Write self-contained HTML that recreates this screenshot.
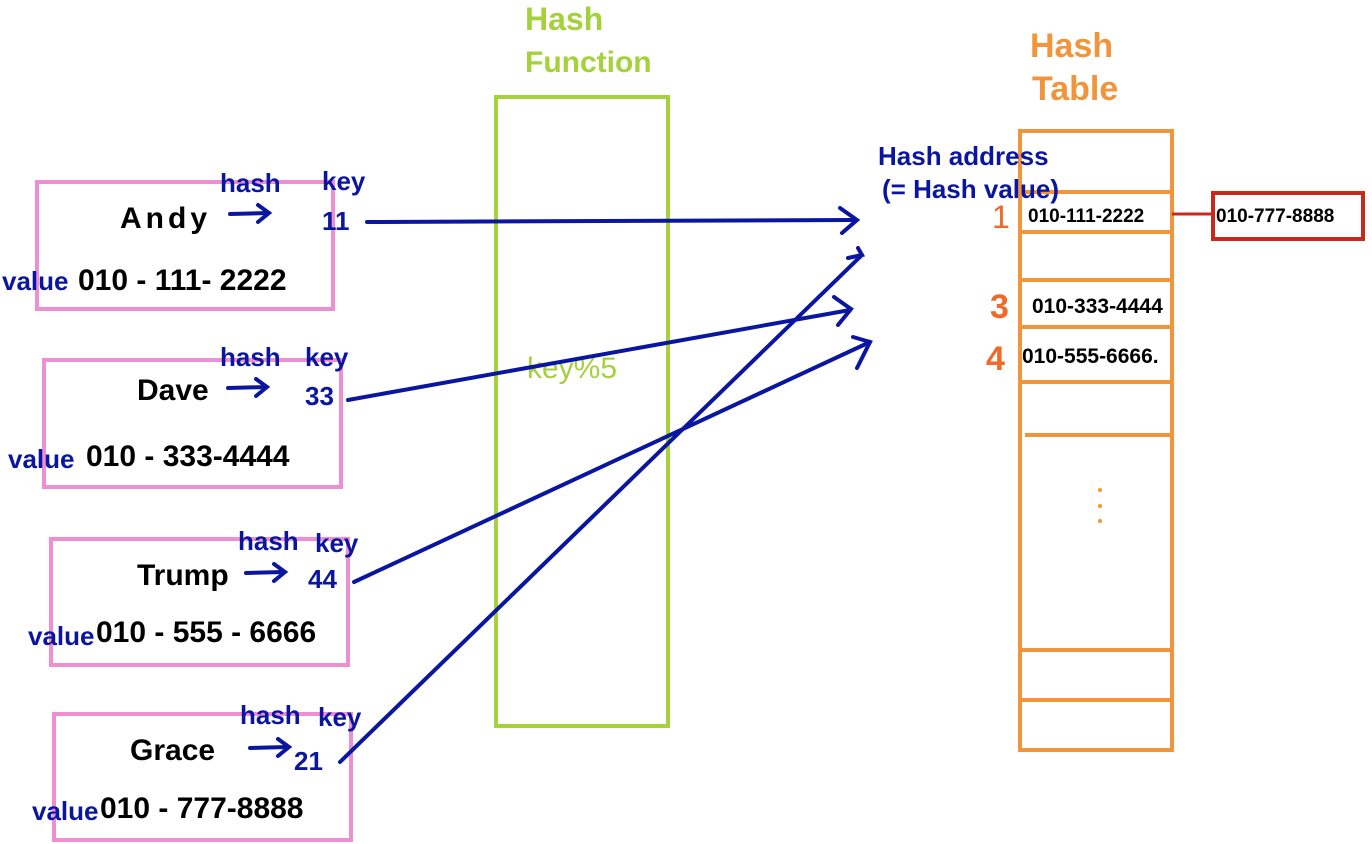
<!DOCTYPE html>
<html><head><meta charset="utf-8"><style>
html,body{margin:0;padding:0;background:#fff;width:1372px;height:844px;overflow:hidden}
svg{display:block}
text{font-family:"Liberation Sans",sans-serif}
.b{fill:#000;font-size:30px;font-weight:bold}
.u{fill:#0a16a0;font-size:26px;font-weight:bold}
</style></head><body>
<svg width="1372" height="844" viewBox="0 0 1372 844">
<g fill="none" stroke="#ef8fd3" stroke-width="4">
<rect x="37" y="182" width="296" height="127"/>
<rect x="44" y="360" width="297" height="127"/>
<rect x="51" y="539" width="297" height="126"/>
<rect x="54" y="714" width="297" height="126"/>
</g>
<rect x="496" y="97" width="172" height="629" fill="none" stroke="#a4d13c" stroke-width="4"/>
<text x="525" y="30" fill="#a4d13c" font-size="32" font-weight="bold">Hash</text>
<text x="525" y="72" fill="#a4d13c" font-size="30" font-weight="bold">Function</text>
<text x="527" y="378" fill="#a4d13c" font-size="30">key%5</text>
<g stroke="#f2953a" stroke-width="4" fill="none">
<rect x="1020" y="131" width="152" height="619"/>
<line x1="1020" y1="192" x2="1172" y2="192"/>
<line x1="1020" y1="232" x2="1172" y2="232"/>
<line x1="1020" y1="280" x2="1172" y2="280"/>
<line x1="1020" y1="327" x2="1172" y2="327"/>
<line x1="1020" y1="382" x2="1172" y2="382"/>
<line x1="1025" y1="435" x2="1172" y2="435"/>
<line x1="1020" y1="650" x2="1172" y2="650"/>
<line x1="1020" y1="700" x2="1172" y2="700"/>
</g>
<text x="1030" y="57" fill="#f2953a" font-size="34" font-weight="bold">Hash</text>
<text x="1032" y="100" fill="#f2953a" font-size="34" font-weight="bold">Table</text>
<g fill="#f2953a"><circle cx="1100" cy="490" r="2"/><circle cx="1100" cy="506" r="2"/><circle cx="1100" cy="521" r="2"/></g>
<text x="878" y="165" class="u">Hash address</text>
<text x="882" y="198" class="u">(= Hash value)</text>
<text x="992" y="228" fill="#f0682a" font-size="32">1</text>
<text x="990" y="318" fill="#f0682a" font-size="34" font-weight="bold">3</text>
<text x="986" y="370" fill="#f0682a" font-size="34" font-weight="bold">4</text>
<text x="1028" y="222" fill="#000" font-size="19" font-weight="bold">010-111-2222</text>
<text x="1032" y="313" fill="#000" font-size="21" font-weight="bold">010-333-4444</text>
<text x="1022" y="363" fill="#000" font-size="21" font-weight="bold">010-555-6666.</text>
<line x1="1172" y1="214" x2="1213" y2="214" stroke="#c8281e" stroke-width="3"/>
<rect x="1213" y="193" width="150" height="46" fill="none" stroke="#c8281e" stroke-width="4"/>
<text x="1216" y="222" fill="#000" font-size="19" font-weight="bold">010-777-8888</text>
<g stroke="#0a16a0" stroke-width="4" fill="none" stroke-linecap="round">
<line x1="367" y1="222" x2="855" y2="220"/><polyline points="840,208 857,220 842,233"/>
<line x1="348" y1="400" x2="850" y2="310"/><polyline points="834,297 851,309 838,325"/>
<line x1="354" y1="582" x2="870" y2="342"/><polyline points="853,337 870,342 857,368"/>
<line x1="340" y1="762" x2="862" y2="255"/><polyline points="848,258 862,255 858,248"/>
<line x1="230" y1="214" x2="268" y2="213"/><polyline points="258,205 269,213 258,222"/>
<line x1="228" y1="388" x2="266" y2="387"/><polyline points="256,379 267,387 256,396"/>
<line x1="246" y1="573" x2="284" y2="572"/><polyline points="274,564 285,572 274,581"/>
<line x1="250" y1="748" x2="288" y2="747"/><polyline points="278,739 289,747 278,756"/>
</g>
<g>
<text x="120" y="228" class="b" letter-spacing="4">Andy</text>
<text x="220" y="192" class="u">hash</text><text x="322" y="190" class="u" font-size="30">key</text>
<text x="322" y="230" class="u">11</text>
<text x="2" y="290" class="u">value</text><text x="78" y="290" class="b" font-size="28">010 - 111- 2222</text>

<text x="137" y="400" class="b">Dave</text>
<text x="220" y="366" class="u">hash</text><text x="305" y="366" class="u" font-size="30">key</text>
<text x="305" y="405" class="u">33</text>
<text x="8" y="468" class="u">value</text><text x="86" y="466" class="b" font-size="28">010 - 333-4444</text>

<text x="137" y="585" class="b">Trump</text>
<text x="238" y="550" class="u">hash</text><text x="315" y="552" class="u" font-size="30">key</text>
<text x="308" y="588" class="u">44</text>
<text x="28" y="645" class="u">value</text><text x="96" y="642" class="b" font-size="28">010 - 555 - 6666</text>

<text x="130" y="760" class="b">Grace</text>
<text x="240" y="724" class="u">hash</text><text x="318" y="726" class="u" font-size="30">key</text>
<text x="294" y="770" class="u" font-size="30">21</text>
<text x="32" y="820" class="u">value</text><text x="100" y="818" class="b" font-size="28">010 - 777-8888</text>
</g>
</svg>
</body></html>
